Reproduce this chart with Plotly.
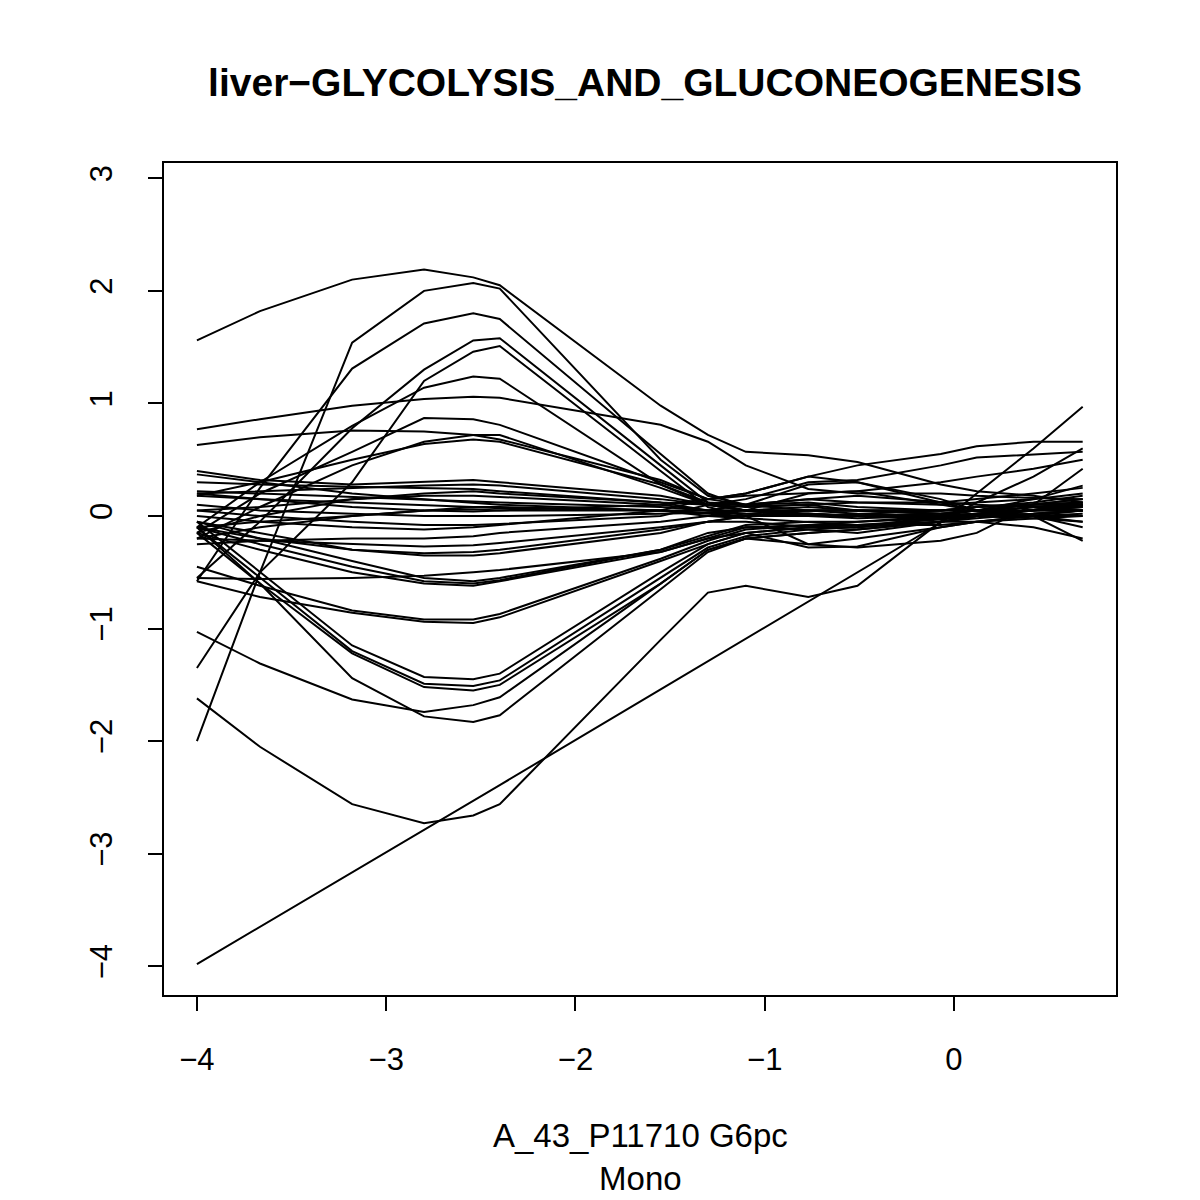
import plotly.graph_objects as go

# common x grid of the profiles
x_vals = [-4.0, -3.667, -3.18, -2.8, -2.54, -2.4, -1.55, -1.3, -1.1, -0.77, -0.51, -0.07, 0.12, 0.42, 0.68]

# high peaks around -2.6
g01 = [1.56, 1.82, 2.10, 2.19, 2.12, 2.05, 0.98, 0.72, 0.57, 0.54, 0.48, 0.28, 0.22, 0.18, 0.12]
g02 = [0.77, 0.86, 0.98, 1.04, 1.06, 1.05, 0.81, 0.66, 0.45, 0.24, 0.20, 0.20, 0.18, 0.16, 0.15]
g03 = [-2.0, -0.5, 1.54, 2.0, 2.07, 2.02, 0.50, 0.18, 0.10, 0.12, 0.08, 0.05, 0.05, 0.10, 0.12]
g04 = [-0.58, 0.25, 1.31, 1.71, 1.80, 1.75, 0.55, 0.20, 0.08, 0.10, 0.05, 0.02, 0.05, 0.08, 0.10]
g05 = [-0.55, -0.05, 0.78, 1.30, 1.56, 1.58, 0.45, 0.12, 0.05, 0.05, 0.02, 0.0, 0.02, 0.05, 0.05]
g06 = [-1.35, -0.5, 0.30, 1.20, 1.46, 1.51, 0.40, 0.08, 0.0, 0.02, 0.0, -0.02, 0.0, 0.05, 0.08]
g07 = [-0.1, 0.30, 0.80, 1.14, 1.24, 1.22, 0.28, 0.10, 0.05, 0.08, 0.05, 0.05, 0.08, 0.10, 0.12]
g08 = [-0.15, 0.20, 0.57, 0.87, 0.86, 0.81, 0.30, 0.15, 0.10, 0.05, 0.05, 0.02, 0.05, 0.10, 0.15]
g09 = [-0.2, 0.08, 0.45, 0.66, 0.72, 0.72, 0.25, 0.10, 0.05, 0.0, 0.0, 0.0, 0.05, 0.15, 0.27]
g10 = [0.18, 0.30, 0.50, 0.64, 0.68, 0.66, 0.28, 0.12, 0.10, 0.15, 0.12, 0.10, 0.12, 0.15, 0.20]
g11 = [0.63, 0.70, 0.76, 0.75, 0.72, 0.68, 0.32, 0.15, 0.20, 0.35, 0.45, 0.55, 0.62, 0.66, 0.66]
# near-straight rising one
g12 = [-3.98, -3.65, -3.17, -2.79, -2.53, -2.39, -1.54, -1.29, -1.09, -0.76, -0.50, -0.06, 0.20, 0.60, 0.97]
# dips
g13 = [-1.62, -2.05, -2.56, -2.73, -2.66, -2.56, -1.10, -0.68, -0.62, -0.72, -0.62, -0.05, 0.12, 0.35, 0.60]
g14 = [-1.03, -1.31, -1.63, -1.74, -1.68, -1.61, -0.60, -0.30, -0.20, -0.25, -0.20, -0.10, -0.05, 0.0, 0.05]
g15 = [-0.1, -0.6, -1.44, -1.78, -1.83, -1.77, -0.65, -0.32, -0.20, -0.15, -0.12, -0.05, 0.0, 0.05, 0.10]
g16 = [-0.05, -0.5, -1.15, -1.43, -1.45, -1.40, -0.50, -0.25, -0.15, -0.10, -0.10, 0.0, 0.02, 0.05, 0.08]
g17 = [-0.1, -0.55, -1.20, -1.49, -1.51, -1.46, -0.55, -0.28, -0.18, -0.12, -0.10, -0.02, 0.0, 0.05, 0.10]
g18 = [-0.15, -0.6, -1.22, -1.52, -1.55, -1.50, -0.60, -0.30, -0.20, -0.15, -0.12, -0.05, -0.02, 0.02, 0.05]
g19 = [-0.58, -0.72, -0.86, -0.94, -0.95, -0.90, -0.40, -0.25, -0.15, -0.10, -0.08, -0.05, 0.0, 0.05, 0.10]
g20 = [-0.45, -0.62, -0.84, -0.92, -0.92, -0.87, -0.38, -0.22, -0.12, -0.08, -0.05, 0.0, 0.02, 0.08, 0.12]
g21 = [-0.1, -0.25, -0.45, -0.58, -0.60, -0.57, -0.30, -0.15, -0.10, -0.12, -0.15, -0.05, 0.0, 0.02, 0.05]
g22 = [-0.15, -0.3, -0.50, -0.60, -0.62, -0.58, -0.32, -0.20, -0.15, -0.28, -0.27, -0.10, -0.05, 0.0, 0.0]
g23 = [-0.05, -0.2, -0.40, -0.55, -0.58, -0.55, -0.30, -0.18, -0.08, -0.05, -0.05, -0.02, 0.0, 0.0, 0.02]
g24 = [-0.55, -0.56, -0.55, -0.53, -0.50, -0.48, -0.32, -0.20, -0.10, -0.08, -0.08, -0.03, 0.0, 0.02, 0.05]
g25 = [-0.05, -0.15, -0.30, -0.35, -0.35, -0.33, -0.15, -0.05, 0.0, 0.0, 0.02, 0.05, 0.05, 0.05, 0.05]
g26 = [-0.1, -0.2, -0.30, -0.33, -0.32, -0.30, -0.12, -0.05, -0.05, -0.10, -0.10, -0.05, -0.05, -0.02, 0.0]
g27 = [-0.2, -0.22, -0.25, -0.27, -0.26, -0.24, -0.10, -0.05, 0.0, 0.05, 0.05, 0.05, 0.08, 0.10, 0.10]
g28 = [-0.25, -0.22, -0.20, -0.20, -0.18, -0.15, -0.05, 0.0, 0.0, 0.02, 0.0, -0.02, 0.0, 0.05, 0.10]
# flat-ish ones
g29 = [0.40, 0.32, 0.28, 0.30, 0.32, 0.30, 0.18, 0.10, 0.05, 0.0, -0.02, 0.0, 0.0, 0.05, 0.10]
g30 = [0.37, 0.30, 0.20, 0.15, 0.12, 0.10, 0.05, 0.0, -0.02, -0.05, -0.08, -0.08, -0.05, -0.10, -0.20]
g31 = [0.30, 0.28, 0.26, 0.25, 0.24, 0.22, 0.12, 0.10, 0.10, 0.28, 0.30, 0.15, 0.05, 0.0, -0.05]
g32 = [0.22, 0.20, 0.17, 0.15, 0.13, 0.12, 0.08, 0.05, 0.05, 0.20, 0.22, 0.10, 0.05, 0.0, -0.22]
g33 = [0.20, 0.22, 0.25, 0.27, 0.28, 0.27, 0.15, 0.10, 0.08, 0.10, 0.12, 0.12, 0.15, 0.20, 0.25]
g34 = [0.18, 0.15, 0.12, 0.10, 0.08, 0.07, 0.05, 0.03, 0.02, 0.05, 0.05, 0.02, 0.0, -0.02, -0.05]
g35 = [0.05, 0.08, 0.15, 0.18, 0.18, 0.17, 0.10, 0.05, 0.05, 0.02, 0.0, 0.0, 0.02, 0.05, 0.08]
g36 = [-0.15, 0.0, 0.15, 0.20, 0.22, 0.20, 0.12, 0.05, 0.02, 0.0, 0.0, 0.02, 0.05, 0.10, 0.15]
g37 = [0.10, 0.05, 0.02, 0.0, 0.0, 0.0, 0.02, 0.03, 0.05, 0.05, 0.05, 0.05, 0.08, 0.12, 0.18]
g38 = [-0.1, -0.05, 0.0, 0.05, 0.08, 0.08, 0.05, 0.02, 0.0, -0.25, -0.28, -0.22, -0.15, 0.10, 0.42]
g39 = [0.0, -0.05, -0.10, -0.12, -0.10, -0.08, 0.05, 0.15, 0.20, 0.35, 0.30, 0.12, 0.05, 0.0, -0.10]
g40 = [0.05, 0.0, -0.05, -0.08, -0.08, -0.07, 0.0, 0.10, 0.15, 0.30, 0.32, 0.45, 0.52, 0.55, 0.57]
g41 = [-0.2, -0.1, 0.0, 0.05, 0.06, 0.05, 0.10, 0.15, 0.18, 0.20, 0.22, 0.30, 0.35, 0.42, 0.50]
g42 = [0.20, 0.15, 0.08, 0.05, 0.04, 0.05, 0.05, 0.05, 0.10, 0.15, 0.18, 0.12, 0.10, 0.08, 0.05]

profiles = [g01, g02, g03, g04, g05, g06, g07, g08, g09, g10, g11, g12, g13, g14,
            g15, g16, g17, g18, g19, g20, g21, g22, g23, g24, g25, g26, g27, g28,
            g29, g30, g31, g32, g33, g34, g35, g36, g37, g38, g39, g40, g41, g42]

fig = go.Figure()
for p in profiles:
    fig.add_trace(go.Scatter(x=x_vals, y=p, mode='lines',
                             line=dict(color='black', width=2), showlegend=False))

fam = 'Liberation Sans, Arial, sans-serif'
tick_font = dict(family=fam, size=31, color='black')

# page body has ~8px margin, so everything is placed 8px up/left of the target
fig.update_layout(
    width=1200, height=1200,
    paper_bgcolor='white', plot_bgcolor='white',
    margin=dict(l=156, r=92, t=155, b=213),
    font=tick_font,
    title=dict(text='<b>liver\u2212GLYCOLYSIS_AND_GLUCONEOGENESIS</b>',
               x=637 / 1200, xanchor='center', y=1 - 74 / 1200, yanchor='middle',
               font=dict(family=fam, size=39, color='black')),
    xaxis=dict(range=[-4.174, 0.856], tickvals=[-4, -3, -2, -1, 0],
               showgrid=False, zeroline=False, showline=True, mirror=True,
               linecolor='black', linewidth=2, ticks='outside', ticklen=14,
               tickwidth=2, tickcolor='black', ticklabelstandoff=22),
    yaxis=dict(range=[-4.255, 3.136], tickvals=[-4, -3, -2, -1, 0, 1, 2, 3],
               showgrid=False, zeroline=False, showline=True, mirror=True,
               linecolor='black', linewidth=2, ticks='outside', ticklen=14,
               tickwidth=2, tickcolor='black', tickangle=-90, ticklabelstandoff=24),
)

fig.add_annotation(text='A_43_P11710 G6pc<br>Mono', xref='paper', yref='paper',
                   x=0.5, y=(995 - 1157) / 832, xanchor='center', yanchor='middle',
                   showarrow=False, font=dict(family=fam, size=33, color='black'))

fig.write_html("out.html")
